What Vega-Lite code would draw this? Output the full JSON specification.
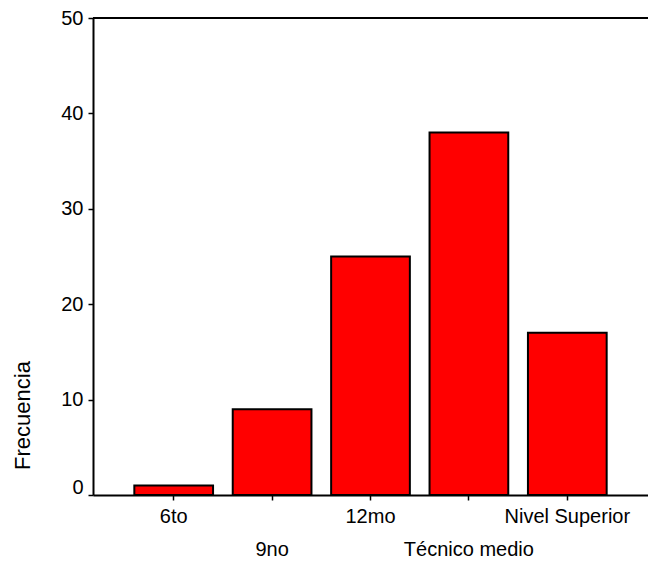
{
  "$schema": "https://vega.github.io/schema/vega-lite/v6.json",
  "autosize": "none",
  "width": 555,
  "height": 477,
  "padding": {"left": 93, "top": 18, "right": 0, "bottom": 75},
  "background": "white",
  "config": {
    "view": {"stroke": null},
    "font": "Liberation Sans",
    "axis": {
      "labelFont": "Liberation Sans",
      "titleFont": "Liberation Sans",
      "labelFontSize": 20,
      "titleFontSize": 22,
      "labelColor": "black",
      "titleColor": "black",
      "domainColor": "black",
      "tickColor": "black",
      "domainWidth": 2,
      "tickWidth": 1.5,
      "grid": false,
      "titleFontWeight": "normal"
    }
  },
  "data": {
    "values": [
      {"nivel": "6to", "frecuencia": 1},
      {"nivel": "9no", "frecuencia": 9},
      {"nivel": "12mo", "frecuencia": 25},
      {"nivel": "Técnico medio", "frecuencia": 38},
      {"nivel": "Nivel Superior", "frecuencia": 17}
    ]
  },
  "layer": [
    {
      "mark": {"type": "bar", "color": "#ff0000", "stroke": "black", "strokeWidth": 2},
      "encoding": {
        "x": {
          "field": "nivel",
          "type": "nominal",
          "sort": null,
          "scale": {"paddingInner": 0.2, "paddingOuter": 0.42},
          "axis": {
            "title": null,
            "labelAngle": 0,
            "tickSize": 5,
            "labelPadding": 6,
            "labelLineHeight": 33,
            "labelBaseline": "top",
            "labelExpr": "(datum.label == '9no' || datum.label == 'Técnico medio') ? ['', datum.label] : datum.label"
          }
        },
        "y": {
          "field": "frecuencia",
          "type": "quantitative",
          "scale": {"domain": [0, 50], "nice": false},
          "axis": {
            "title": "Frecuencia",
            "values": [0, 10, 20, 30, 40, 50],
            "tickSize": 5,
            "labelPadding": 5,
            "labelOffset": {"condition": {"test": "datum.value === 0", "value": -8}, "value": 0},
            "titleAngle": -90,
            "titleX": -71,
            "titleY": 397,
            "titleAlign": "center",
            "titleBaseline": "middle"
          }
        }
      }
    },
    {
      "mark": {"type": "rule", "color": "black", "strokeWidth": 2},
      "encoding": {"y": {"datum": 50}}
    }
  ]
}
